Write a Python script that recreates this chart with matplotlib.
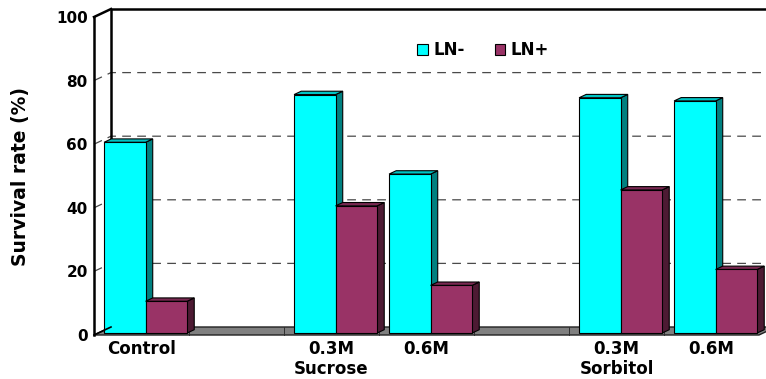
import matplotlib
matplotlib.use("Agg")
import matplotlib.pyplot as plt
from matplotlib.patches import Polygon, Patch

# ---- data -------------------------------------------------------------
# Empty strings / None mark the spacer slots between treatment groups.
categories = ["Control", "", "0.3M\nSucrose", "0.6M", "", "0.3M\nSorbitol", "0.6M"]
ln_minus = [60, None, 75, 50, None, 74, 73]
ln_plus = [10, None, 40, 15, None, 45, 20]
series_names = ["LN-", "LN+"]
y_ticks = [0, 20, 40, 60, 80, 100]

# ---- style ------------------------------------------------------------
plt.rcParams["font.family"] = ["DejaVu Sans"]
plt.rcParams["font.weight"] = "bold"

# (front, top, side) shades for each series
CYAN = ("#00FFFF", "#00C4C4", "#008080")
MAROON = ("#993366", "#7A2952", "#4D1A33")
DEPTH_PX = (17.0, 8.0)      # depth of the 3-D box in pixels (right, up)
BAR_FRONT, BAR_BACK = 0.24, 0.66
BAR_W = 0.437

fig = plt.figure(figsize=(7.66, 3.79), dpi=100)
ax = fig.add_axes([94 / 766, 44 / 379, 665 / 766, 318 / 379])
n = len(categories)
ax.set_xlim(-0.5, n - 0.5)
ax.set_ylim(0, 100)
ax.set_autoscale_on(False)
for s in ax.spines.values():
    s.set_visible(False)
ax.patch.set_visible(False)

# pixel size of one data unit, used to turn the depth offset into data units
p0 = ax.transData.transform((0, 0))
p1 = ax.transData.transform((1, 1))
ux, uy = p1[0] - p0[0], p1[1] - p0[1]


def pt(x, y, d):
    """Point (x, y) pushed back into the box by depth fraction d."""
    return (x + d * DEPTH_PX[0] / ux, y + d * DEPTH_PX[1] / uy)


def line(points, **kw):
    xs, ys = zip(*points)
    ax.plot(xs, ys, clip_on=False, solid_capstyle="projecting", **kw)


left, right = -0.5, n - 0.5

# dashed gridlines on the side wall and back wall
for v in y_ticks[1:-1]:
    line([pt(left, v, 0), pt(left, v, 1), pt(right, v, 1)],
         color="#4a4a4a", lw=0.9, ls=(0, (7, 5)), zorder=1)

# back wall frame
line([pt(left, 0, 1), pt(left, 100, 1), pt(right, 100, 1)],
     color="black", lw=1.8, zorder=1.5)
line([pt(left, 100, 0), pt(left, 100, 1)], color="black", lw=1.8, zorder=1.5)

# floor
floor = Polygon([pt(left, 0, 0), pt(right, 0, 0), pt(right, 0, 1), pt(left, 0, 1)],
                closed=True, facecolor="#808080", edgecolor="#202020", lw=1.0,
                zorder=2, clip_on=False)
ax.add_patch(floor)
for k in range(1, n):
    line([(k - 0.5, 0), (k - 0.5, DEPTH_PX[1] / uy)], color="#303030", lw=0.7,
         zorder=2.1)

# front axis line and its lower diagonal
line([pt(left, 0, 0), pt(left, 100, 0)], color="black", lw=1.8, zorder=20)
line([pt(left, 0, 0), pt(left, 0, 1)], color="black", lw=1.2, zorder=20)

# 3-D bars
z = 3.0
for i, (a, b) in enumerate(zip(ln_minus, ln_plus)):
    if a is None:
        continue
    for x0, v, shades in ((i - BAR_W, a, CYAN), (i, b, MAROON)):
        z += 0.1
        front, top, side = shades
        x1 = x0 + BAR_W
        ax.add_patch(Polygon([pt(x1, 0, BAR_FRONT), pt(x1, v, BAR_FRONT),
                              pt(x1, v, BAR_BACK), pt(x1, 0, BAR_BACK)],
                             closed=True, facecolor=side, edgecolor="black",
                             lw=0.8, zorder=z, clip_on=False))
        ax.add_patch(Polygon([pt(x0, v, BAR_FRONT), pt(x1, v, BAR_FRONT),
                              pt(x1, v, BAR_BACK), pt(x0, v, BAR_BACK)],
                             closed=True, facecolor=top, edgecolor="black",
                             lw=0.8, zorder=z, clip_on=False))
        fx, fy = pt(x0, 0, BAR_FRONT)
        ax.bar(fx, v, width=BAR_W, bottom=fy, align="edge", color=front,
               edgecolor="black", lw=0.8, zorder=z + 0.05, clip_on=False)

# ticks and labels
ax.set_yticks(y_ticks)
ax.set_yticklabels([str(t) for t in y_ticks])
ax.tick_params(axis="y", length=0, pad=4.5, labelsize=11)
xt = [i for i, c in enumerate(categories) if c]
ax.set_xticks(xt)
ax.set_xticklabels([categories[i] for i in xt], linespacing=1.12)
ax.tick_params(axis="x", length=0, pad=3.5, labelsize=12)

fig.text(0.027, 0.535, "Survival rate (%)", rotation=90, ha="center",
         va="center", fontsize=13.5, fontweight="bold")

handles = [Patch(facecolor=CYAN[0], edgecolor="black", lw=0.8, label=series_names[0]),
           Patch(facecolor=MAROON[0], edgecolor="black", lw=0.8, label=series_names[1])]
ax.legend(handles=handles, ncol=2, frameon=False, loc="center",
          bbox_to_anchor=(483 / 766, 1 - 50 / 379), bbox_transform=fig.transFigure,
          prop={"weight": "bold", "size": 12}, handlelength=0.65,
          handleheight=0.65, handletextpad=0.3, columnspacing=1.8)

fig.savefig("out.png", dpi=100)
